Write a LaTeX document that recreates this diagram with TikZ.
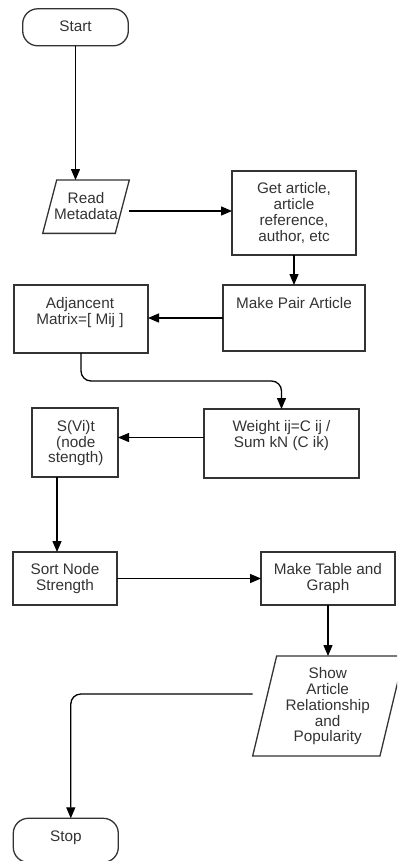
\documentclass[tikz,border=0pt]{standalone}
\usepackage{fontspec}
\setmainfont{Liberation Sans}
\usetikzlibrary{arrows.meta,calc}
\definecolor{ink}{HTML}{333333}
\definecolor{boxline}{HTML}{333333}
\begin{document}
\begin{tikzpicture}[x=1pt,y=-1pt,
  every node/.style={inner sep=0pt, outer sep=0pt},
  frame/.style={draw=boxline, line width=1.3pt},
  procbox/.style={frame, rectangle},
  termbox/.style={frame, rectangle, rounded corners=15pt},
  iobox/.style={rectangle},
  lbl/.style={text=ink, align=center, text depth=0pt,
    font=\fontsize{15.3}{15.7}\selectfont},
  flow/.style={draw=black, line width=1.3pt, -{Triangle[length=11pt,width=9pt]}}
]
\useasboundingbox (0,0) rectangle (397,861);
\clip (0,0) rectangle (397,861);

% terminators
\node[termbox, minimum width=105.6, minimum height=37] (start) at (75.5,27.3) {};
\node[lbl] (start-t) at ([yshift=1]start.center) {Start};

\node[termbox, minimum width=105, minimum height=44] (stop) at (65.8,840.3) {};
\node[lbl] (stop-t) at ([yshift=4]stop.center) {Stop};

% input / output (parallelograms drawn on their bounding boxes)
\node[iobox, minimum width=86.6, minimum height=53.3] (read) at (86,206.7) {};
\draw[frame] ([xshift=14]read.north west) -- (read.north east)
  -- ([xshift=-14]read.south east) -- (read.south west) -- cycle;
\node[lbl] (read-t) at ([yshift=0.7]read.center) {Read\\Metadata};

\node[iobox, minimum width=151.3, minimum height=100] (show) at (328.3,706) {};
\draw[frame] ([xshift=24]show.north west) -- (show.north east)
  -- ([xshift=-24]show.south east) -- (show.south west) -- cycle;
\node[lbl] (show-t) at ([xshift=-0.6,yshift=1.2]show.center)
  {Show\\Article\\Relationship\\and\\Popularity};

% process steps
\node[procbox, minimum width=124, minimum height=84] (get) at (294,213) {};
\node[lbl] (get-t) at ([yshift=1]get.center)
  {Get article,\\article\\reference,\\author, etc};

\node[procbox, minimum width=142, minimum height=66] (pair) at (294,318) {};
\node[lbl] (pair-t) at ([yshift=15.5]pair.center) {Make Pair Article};

\node[procbox, minimum width=134, minimum height=68] (adj) at (81,319) {};
\node[lbl] (adj-t) at ([xshift=-1,yshift=8]adj.center) {Adjancent\\Matrix=[ Mij ]};

\node[procbox, minimum width=155, minimum height=69] (weight) at (281.5,443.5) {};
\node[lbl] (weight-t) at ([yshift=9.8]weight.center) {Weight ij=C ij /\\Sum kN (C ik)};

\node[procbox, minimum width=86, minimum height=69] (svit) at (75,442.5) {};
\node[lbl] (svit-t) at ([xshift=0.8,yshift=0.8]svit.center) {S(Vi)t\\(node\\stength)};

\node[procbox, minimum width=104, minimum height=53] (sort) at (65,578.5) {};
\node[lbl] (sort-t) at ([yshift=1.5]sort.center) {Sort Node\\Strength};

\node[procbox, minimum width=134, minimum height=53] (table) at (328,578.5) {};
\node[lbl] (table-t) at ([yshift=1.5]table.center) {Make Table and\\Graph};

% connectors
\draw[flow] (start.south) -- (start.south |- read.north);
\draw[flow] ([yshift=2]get.west -| read.east) -- ([yshift=2]get.west);
\draw[flow] (get.south) -- (get.south |- pair.north);
\draw[flow] (pair.west) -- (pair.west -| adj.east);
\draw[flow, rounded corners=10pt] (adj.south)
  |- ($(adj.south)!0.5!(weight.north)$) -| (weight.north);
\draw[flow] ([yshift=6]weight.west) -- ([yshift=6]weight.west -| svit.east);
\draw[flow] ([xshift=-18]svit.south) -- ([xshift=-18]svit.south |- sort.north);
\draw[flow] (sort.east) -- (sort.east -| table.west);
\draw[flow] (table.south) -- (table.south |- show.north);
\draw[flow, rounded corners=10pt] ([yshift=12]show.west) -| ([xshift=5]stop.north);
\end{tikzpicture}
\end{document}
